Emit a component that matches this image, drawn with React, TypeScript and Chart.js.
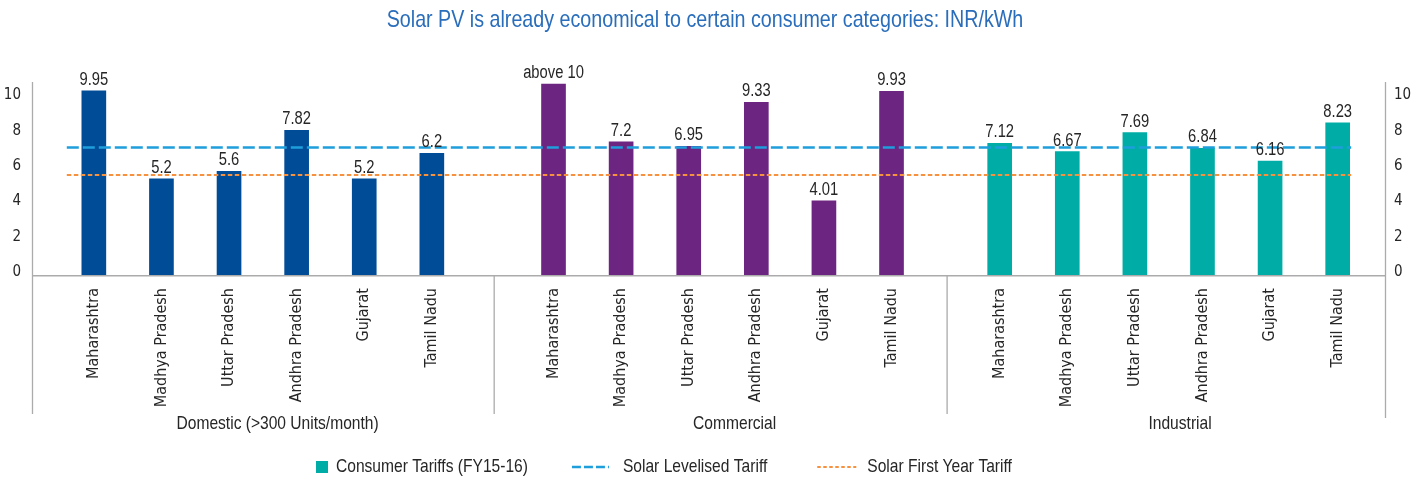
import { useEffect, useRef } from 'react';
import { Chart, registerables } from 'chart.js';

Chart.register(...registerables);

const AXIS_FONT = "'DejaVu Sans Condensed', 'Liberation Sans', sans-serif";
const TEXT_FONT = "'Liberation Sans', Arial, sans-serif";
const NARROW = 0.82; // horizontal squeeze to emulate a narrow face

// ---------------- data ----------------
const chartTitle = 'Solar PV is already economical to certain consumer categories: INR/kWh';
const groups = ['Domestic (>300 Units/month)', 'Commercial', 'Industrial'];
const states = ['Maharashtra', 'Madhya Pradesh', 'Uttar Pradesh', 'Andhra Pradesh', 'Gujarat', 'Tamil Nadu'];
const domesticTariffs = [9.95, 5.2, 5.6, 7.82, 5.2, 6.58];
const commercialTariffs = [10.32, 7.2, 6.95, 9.33, 4.01, 9.93];
const industrialTariffs = [7.12, 6.67, 7.69, 6.84, 6.16, 8.23];
const domesticLabels = ['9.95', '5.2', '5.6', '7.82', '5.2', '6.2'];
const commercialLabels = ['above 10', '7.2', '6.95', '9.33', '4.01', '9.93'];
const industrialLabels = ['7.12', '6.67', '7.69', '6.84', '6.16', '8.23'];
const yTicks = [0, 2, 4, 6, 8, 10];
const levelisedTariff = 7.05;
const firstYearTariff = 5.5;
const seriesNames = ['Consumer Tariffs (FY15-16)', 'Solar Levelised Tariff', 'Solar First Year Tariff'];

// ---------------- styles / layout ----------------
const W = 1425;
const H = 479;
const groupColors = ['#004C97', '#6D2582', '#00ADA6'];
const levelisedColor = '#1E9FDC';
const firstYearColor = '#F5913F';
const textColor = '#262626';
const frameColor = '#ABABAB';
const barSlotCount = 100;
const groupStartSlot = [4, 38, 71];
const slotStep = 5;

const groupValues = [domesticTariffs, commercialTariffs, industrialTariffs];
const groupLabelTexts = [domesticLabels, commercialLabels, industrialLabels];

// bar axis (fine slots)
const barAxisLabels: string[] = new Array(barSlotCount).fill('');
const barData: (number | null)[] = new Array(barSlotCount).fill(null);
const barColors: string[] = new Array(barSlotCount).fill('rgba(0,0,0,0)');
const barTexts: string[] = new Array(barSlotCount).fill('');
const groupSlots: number[][] = [];
groups.forEach((_, g) => {
  const slots: number[] = [];
  states.forEach((s, j) => {
    const idx = groupStartSlot[g] + j * slotStep;
    barAxisLabels[idx] = s;
    barData[idx] = groupValues[g][j];
    barColors[idx] = groupColors[g];
    barTexts[idx] = groupLabelTexts[g][j];
    slots.push(idx);
  });
  groupSlots.push(slots);
});

// line axis (one slot per category, blank slot between groups)
const lineAxisLabels: string[] = [];
groups.forEach((_, g) => {
  states.forEach((s) => lineAxisLabels.push(s));
  if (g < groups.length - 1) lineAxisLabels.push('');
});

function drawText(
  ctx: CanvasRenderingContext2D,
  text: string,
  x: number,
  y: number,
  size: number,
  align: CanvasTextAlign,
  baseline: CanvasTextBaseline,
  color: string,
): number {
  ctx.save();
  ctx.font = `${size}px ${TEXT_FONT}`;
  ctx.fillStyle = color;
  ctx.textAlign = align;
  ctx.textBaseline = baseline;
  ctx.translate(x, y);
  ctx.scale(NARROW, 1);
  ctx.fillText(text, 0, 0);
  const w = ctx.measureText(text).width * NARROW;
  ctx.restore();
  return w;
}

const overlayPlugin = {
  id: 'overlay',
  beforeDatasetsDraw(chart: any) {
    const { ctx, chartArea: ca } = chart;
    ctx.save();
    ctx.strokeStyle = frameColor;
    ctx.lineWidth = 1.5;
    ctx.beginPath();
    ctx.moveTo(ca.left, ca.bottom + 0.75);
    ctx.lineTo(ca.right, ca.bottom + 0.75);
    ctx.stroke();
    ctx.restore();
  },
  afterDraw(chart: any) {
    const { ctx, chartArea: ca, scales } = chart;
    const xs = scales.x;
    ctx.save();

    // frame verticals & group separators
    ctx.strokeStyle = frameColor;
    ctx.lineWidth = 1.3;
    const seps: number[] = [];
    for (let g = 0; g < groupSlots.length - 1; g++) {
      const a = xs.getPixelForValue(groupSlots[g][groupSlots[g].length - 1]);
      const b = xs.getPixelForValue(groupSlots[g + 1][0]);
      seps.push((a + b) / 2 + 1.5);
    }
    ctx.beginPath();
    ctx.moveTo(ca.left - 0.5, ca.top);
    ctx.lineTo(ca.left - 0.5, 414);
    ctx.moveTo(ca.right + 0.5, ca.top);
    ctx.lineTo(ca.right + 0.5, 418);
    seps.forEach((x) => {
      ctx.moveTo(x, ca.bottom + 1);
      ctx.lineTo(x, 414);
    });
    ctx.stroke();

    // data labels
    const meta = chart.getDatasetMeta(0);
    meta.data.forEach((el: any, i: number) => {
      if (barData[i] == null) return;
      drawText(ctx, barTexts[i], el.x, el.y - 6, 18, 'center', 'alphabetic', textColor);
    });

    // group labels
    const bounds = [ca.left, ...seps, ca.right];
    groups.forEach((gname, g) => {
      const cx = (bounds[g] + bounds[g + 1]) / 2 + 14;
      drawText(ctx, gname, cx, 424, 19, 'center', 'middle', textColor);
    });

    // title
    drawText(ctx, chartTitle, (ca.left + ca.right) / 2 - 4, 20, 24, 'center', 'middle', '#2A6EBB');

    // legend
    const ly = 467;
    let lx = 316;
    ctx.fillStyle = groupColors[2];
    ctx.fillRect(lx, ly - 6, 12, 12);
    lx += 20;
    lx += drawText(ctx, seriesNames[0], lx, ly, 19, 'left', 'middle', textColor) + 44;

    ctx.strokeStyle = levelisedColor;
    ctx.lineWidth = 2.5;
    ctx.setLineDash([9, 3]);
    ctx.beginPath();
    ctx.moveTo(lx, ly);
    ctx.lineTo(lx + 37, ly);
    ctx.stroke();
    lx += 51;
    lx += drawText(ctx, seriesNames[1], lx, ly, 19, 'left', 'middle', textColor) + 50;

    ctx.strokeStyle = firstYearColor;
    ctx.lineWidth = 2;
    ctx.setLineDash([3.5, 2.5]);
    ctx.beginPath();
    ctx.moveTo(lx, ly);
    ctx.lineTo(lx + 39, ly);
    ctx.stroke();
    ctx.setLineDash([]);
    lx += 50;
    drawText(ctx, seriesNames[2], lx, ly, 19, 'left', 'middle', textColor);

    ctx.restore();
  },
};

export default function App() {
  const canvasRef = useRef<HTMLCanvasElement | null>(null);

  useEffect(() => {
    if (!canvasRef.current) return;
    const tickFont = { family: AXIS_FONT, size: 15 };
    const chart = new Chart(canvasRef.current, {
      type: 'bar',
      data: {
        datasets: [
          {
            type: 'bar',
            label: seriesNames[0],
            data: barData,
            backgroundColor: barColors,
            barThickness: 24,
            grouped: false,
            xAxisID: 'x',
            yAxisID: 'y',
            order: 2,
          } as any,
          {
            type: 'line',
            label: seriesNames[1],
            data: lineAxisLabels.map(() => levelisedTariff),
            borderColor: levelisedColor,
            borderWidth: 2.5,
            borderDash: [12, 4],
            pointRadius: 0,
            fill: false,
            xAxisID: 'x2',
            yAxisID: 'yr',
            order: 1,
          } as any,
          {
            type: 'line',
            label: seriesNames[2],
            data: lineAxisLabels.map(() => firstYearTariff),
            borderColor: firstYearColor,
            borderWidth: 2,
            borderDash: [4.5, 2.5],
            pointRadius: 0,
            fill: false,
            xAxisID: 'x2',
            yAxisID: 'yr',
            order: 1,
          } as any,
        ],
      },
      options: {
        responsive: false,
        animation: false,
        layout: { padding: { top: 82, left: 0, right: 0, bottom: 0 } },
        plugins: {
          legend: { display: false },
          title: { display: false },
          tooltip: { enabled: false },
        },
        scales: {
          x: {
            type: 'category',
            labels: barAxisLabels,
            position: 'bottom',
            offset: true,
            grid: { display: false, drawTicks: false },
            border: { display: false },
            ticks: {
              autoSkip: false,
              minRotation: 90,
              maxRotation: 90,
              padding: 13,
              color: textColor,
              font: { family: AXIS_FONT, size: 16 },
            },
            afterFit: (s: any) => {
              s.height = H - 275;
            },
          },
          x2: {
            type: 'category',
            labels: lineAxisLabels,
            display: false,
            offset: true,
          },
          y: {
            display: false,
            min: 0,
            max: 10.43,
          },
          yl: {
            position: 'left',
            min: -0.17,
            max: 10.76,
            afterBuildTicks: (s: any) => {
              s.ticks = yTicks.map((v) => ({ value: v }));
            },
            grid: { display: false, drawTicks: false },
            border: { display: false },
            ticks: { padding: 12, color: textColor, font: tickFont },
            afterFit: (s: any) => {
              s.width = 33;
            },
          },
          yr: {
            position: 'right',
            min: -0.17,
            max: 10.76,
            afterBuildTicks: (s: any) => {
              s.ticks = yTicks.map((v) => ({ value: v }));
            },
            grid: { display: false, drawTicks: false },
            border: { display: false },
            ticks: { padding: 9, color: textColor, font: tickFont },
            afterFit: (s: any) => {
              s.width = 40;
            },
          },
        },
      } as any,
      plugins: [overlayPlugin],
    });
    return () => chart.destroy();
  }, []);

  return (
    <div style={{ position: 'absolute', left: 0, top: 0, width: W, height: H, background: '#ffffff' }}>
      <canvas ref={canvasRef} width={W} height={H} style={{ display: 'block', width: W, height: H }} />
    </div>
  );
}
